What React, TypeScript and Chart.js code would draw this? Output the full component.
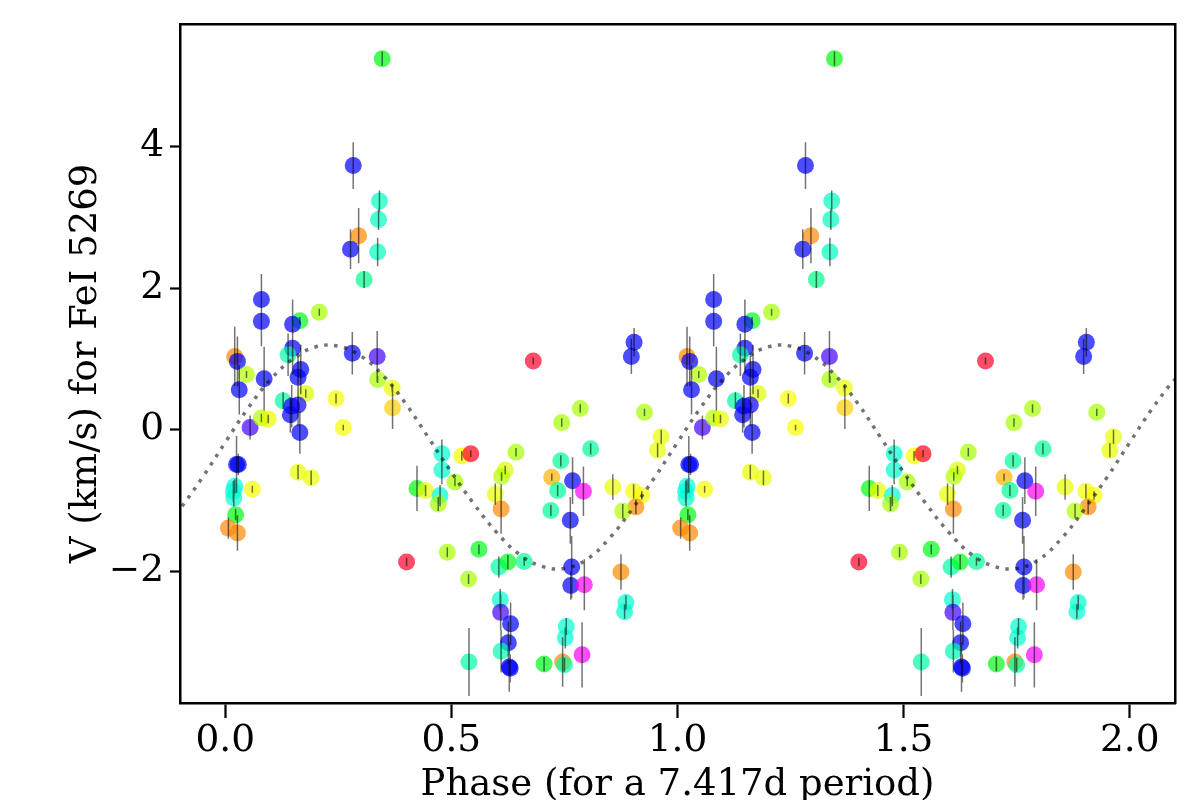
import React, { useEffect, useRef } from "react";
import { Chart, registerables } from "chart.js";

Chart.register(...registerables);

// ---- data (phase folded, one cycle; the plot shows it twice: phase and phase + 1) ----
const phase = [
  0.021, 0.027, 0.047, 0.031, 0.055, 0.025, 0.029, 0.021, 0.018, 0.019, 0.060, 0.023, 0.007, 0.027,
  0.080, 0.080, 0.086, 0.080, 0.095,
  0.165, 0.149, 0.149, 0.139, 0.167, 0.161, 0.128, 0.178, 0.147, 0.161, 0.144, 0.165, 0.161, 0.190, 0.208, 0.245, 0.261,
  0.347, 0.283, 0.341, 0.339, 0.295, 0.277, 0.337, 0.307, 0.281, 0.336, 0.337, 0.369, 0.370,
  0.401, 0.424, 0.443, 0.479, 0.479, 0.523, 0.543, 0.508, 0.475, 0.471, 0.491, 0.561, 0.538, 0.539,
  0.643, 0.619, 0.611, 0.597, 0.610, 0.605, 0.625, 0.661, 0.608, 0.609, 0.631, 0.626, 0.610, 0.628, 0.630,
  0.681, 0.744, 0.785, 0.808, 0.742, 0.722, 0.768, 0.735, 0.792, 0.720, 0.763, 0.705, 0.746, 0.750, 0.754, 0.752, 0.789, 0.766, 0.764, 0.794,
  0.927, 0.964, 0.956, 0.857, 0.903, 0.921, 0.908, 0.879, 0.904, 0.898, 0.875, 0.886, 0.883,
];

const velocity = [
  1.035, 0.965, 0.78, 0.565, 0.03, -0.49, -0.49, -0.80, -0.87, -0.965, -0.84, -1.20, -1.39, -1.46,
  1.84, 1.53, 0.72, 0.165, 0.15,
  1.54, 1.49, 1.15, 1.06, 0.85, 0.74, 0.41, 0.51, 0.33, 0.35, 0.21, -0.04, -0.60, -0.68, 1.66, 0.44, 0.03,
  5.24, 3.73, 3.23, 2.97, 2.74, 2.55, 2.51, 2.12, 1.08, 1.035, 0.71, 0.59, 0.31,
  -1.87, -0.83, -0.86, -0.34, -0.57, -0.37, -0.34, -0.74, -0.93, -1.05, -1.73, -1.69, -2.11, -3.28,
  -0.32, -0.57, -0.66, -0.91, -1.12, -1.94, -1.87, -1.86, -2.40, -2.58, -2.74, -3.01, -3.13, -3.35, -3.37,
  0.97, 0.10, 0.30, -0.27, -0.44, -0.67, -0.72, -0.86, -0.87, -1.14, -1.28, -3.31, -3.28, -3.32, -2.78, -2.94, -3.18, -1.94, -2.20, -2.19,
  0.245, -0.10, -0.29, -0.81, -0.87, -0.93, -1.09, -1.15, 1.235, 1.035, -2.01, -2.44, -2.57,
];

const velocityErr = [
  0.42, 0.35, 0.05, 0.35, 0.17, 0.40, 0.15, 0.10, 0.15, 0.12, 0.05, 0.08, 0.15, 0.25,
  0.36, 0.35, 0.45, 0.06, 0.06,
  0.05, 0.35, 0.37, 0.30, 0.35, 0.30, 0.12, 0.06, 0.30, 0.30, 0.25, 0.30, 0.10, 0.10, 0.05, 0.07, 0.04,
  0.10, 0.33, 0.15, 0.15, 0.39, 0.28, 0.20, 0.12, 0.30, 0.36, 0.05, 0.05, 0.30,
  0.06, 0.32, 0.08, 0.20, 0.20, 0.07, 0.05, 0.06, 0.15, 0.10, 0.07, 0.07, 0.07, 0.48,
  0.06, 0.06, 0.06, 0.15, 0.35, 0.15, 0.10, 0.06, 0.15, 0.25, 0.30, 0.30, 0.30, 0.35, 0.20,
  0.05, 0.06, 0.06, 0.08, 0.08, 0.05, 0.33, 0.08, 0.35, 0.08, 0.33, 0.10, 0.35, 0.10, 0.12, 0.15, 0.46, 0.44, 0.20, 0.36,
  0.05, 0.10, 0.10, 0.18, 0.10, 0.06, 0.10, 0.10, 0.20, 0.25, 0.25, 0.10, 0.10,
];

// colour value of each observation (0..1 on the gist_rainbow colour map)
const colorValue = [
  0.13, 0.77, 0.27, 0.77, 0.82, 0.77, 0.77, 0.56, 0.56, 0.55, 0.22, 0.41, 0.13, 0.13,
  0.77, 0.77, 0.77, 0.27, 0.23,
  0.42, 0.77, 0.77, 0.52, 0.77, 0.77, 0.52, 0.24, 0.78, 0.78, 0.77, 0.77, 0.23, 0.23, 0.28, 0.22, 0.22,
  0.41, 0.77, 0.54, 0.54, 0.13, 0.77, 0.54, 0.50, 0.77, 0.82, 0.28, 0.23, 0.18,
  0.00, 0.41, 0.23, 0.55, 0.55, 0.22, 0.01, 0.28, 0.55, 0.28, 0.28, 0.42, 0.28, 0.52,
  0.28, 0.24, 0.27, 0.23, 0.13, 0.52, 0.42, 0.51, 0.55, 0.82, 0.77, 0.77, 0.53, 0.77, 0.77,
  0.00, 0.28, 0.28, 0.51, 0.51, 0.16, 0.77, 0.51, 0.96, 0.51, 0.77, 0.42, 0.13, 0.52, 0.55, 0.55, 0.96, 0.77, 0.77, 0.96,
  0.28, 0.23, 0.23, 0.23, 0.22, 0.22, 0.13, 0.27, 0.77, 0.77, 0.13, 0.55, 0.55,
];

// fitted curve, read every 0.05 in phase over one cycle (0.00 .. 0.95)
const curveCyclePhase = [0, 0.05, 0.1, 0.15, 0.2, 0.25, 0.3, 0.35, 0.4, 0.45, 0.5, 0.55, 0.6, 0.65, 0.7, 0.75, 0.8, 0.85, 0.9, 0.95];
const curveCycleValue = [-0.18, 0.3, 0.71, 1.0, 1.17, 1.18, 1.04, 0.76, 0.36, -0.12, -0.6, -1.05, -1.45, -1.76, -1.93, -1.96, -1.83, -1.53, -1.12, -0.67];
const cycleOffsets = [-1, 0, 1, 2];

const xTicks = [0, 0.5, 1.0, 1.5, 2.0];
const yTicks = [-2, 0, 2, 4];
const xRange = [-0.1, 2.1];
const yRange = [-3.86, 5.73];

const xTitle = "Phase (for a 7.417d period)";
const yTitle = "V (km/s) for FeI 5269";

// ---- styles ----
const FONT = "'DejaVu Serif', 'Liberation Serif', serif";
const CANVAS_W = 1200;
const CANVAS_H = 810;

const gistStops: [number, [number, number, number]][] = [
  [0.0, [1.0, 0.0, 0.16]],
  [0.03, [1.0, 0.0, 0.0]],
  [0.215, [1.0, 1.0, 0.0]],
  [0.4, [0.0, 1.0, 0.0]],
  [0.586, [0.0, 1.0, 1.0]],
  [0.77, [0.0, 0.0, 1.0]],
  [0.954, [1.0, 0.0, 1.0]],
  [1.0, [1.0, 0.0, 0.75]],
];

function gistRainbow(t: number, alpha: number): string {
  const v = Math.min(1, Math.max(0, t));
  for (let i = 0; i < gistStops.length - 1; i++) {
    const [t0, c0] = gistStops[i];
    const [t1, c1] = gistStops[i + 1];
    if (v >= t0 && v <= t1) {
      const f = (v - t0) / (t1 - t0);
      const c = c0.map((a, k) => Math.round(255 * (a + (c1[k] - a) * f)));
      return `rgba(${c[0]},${c[1]},${c[2]},${alpha})`;
    }
  }
  return `rgba(255,0,191,${alpha})`;
}

export default function App() {
  const canvasRef = useRef<HTMLCanvasElement | null>(null);

  useEffect(() => {
    const canvas = canvasRef.current;
    if (!canvas) return;

    const pts: { x: number; y: number }[] = [];
    const cols: string[] = [];
    const bars: { x: number; y: number | null }[] = [];
    [0, 1].forEach((shift) => {
      phase.forEach((p, i) => {
        pts.push({ x: p + shift, y: velocity[i] });
        cols.push(gistRainbow(colorValue[i], 0.7));
        bars.push({ x: p + shift, y: velocity[i] - velocityErr[i] });
        bars.push({ x: p + shift, y: velocity[i] + velocityErr[i] });
        bars.push({ x: p + shift, y: null });
      });
    });

    const curve: { x: number; y: number }[] = [];
    cycleOffsets.forEach((k) => {
      curveCyclePhase.forEach((p, i) => {
        const x = p + k;
        if (x >= xRange[0] - 0.051 && x <= xRange[1] + 0.051) curve.push({ x, y: curveCycleValue[i] });
      });
    });

    const tickFont = { family: FONT, size: 37.5 };
    const titleFont = { family: FONT, size: 37 };

    const chart = new Chart(canvas, {
      type: "scatter",
      data: {
        datasets: [
          {
            type: "line",
            data: curve,
            borderColor: "rgba(0,0,0,0.55)",
            borderWidth: 3.5,
            borderDash: [3.5, 6.5],
            pointRadius: 0,
            tension: 0.4,
            fill: false,
            order: 0,
          } as any,
          {
            type: "line",
            data: bars,
            borderColor: "rgba(0,0,0,0.55)",
            borderWidth: 1.5,
            pointRadius: 0,
            spanGaps: false,
            tension: 0,
            fill: false,
            order: 1,
          } as any,
          {
            type: "scatter",
            data: pts,
            backgroundColor: cols,
            pointBackgroundColor: cols,
            pointBorderWidth: 0,
            borderWidth: 0,
            pointRadius: 8.5,
            order: 2,
          } as any,
        ],
      },
      options: {
        responsive: false,
        animation: false,
        events: [],
        layout: { padding: { top: 24, right: 25, left: 0, bottom: 0 } },
        plugins: { legend: { display: false }, tooltip: { enabled: false } },
        scales: {
          x: {
            type: "linear",
            position: "bottom",
            min: xRange[0],
            max: xRange[1],
            afterFit: (s: any) => {
              s.height = CANVAS_H - 703;
              s.paddingLeft = 0;
              s.paddingRight = 0;
            },
            afterBuildTicks: (s: any) => {
              s.ticks = xTicks.map((v) => ({ value: v }));
            },
            ticks: {
              color: "#000",
              font: tickFont,
              padding: 1,
              maxRotation: 0,
              autoSkip: false,
              includeBounds: false,
              callback: (v: any) => Number(v).toFixed(1),
            },
            grid: {
              display: true,
              drawOnChartArea: false,
              drawTicks: true,
              tickLength: 15,
              tickWidth: 2.2,
              tickColor: "#000",
            },
            border: { display: true, color: "#000", width: 2.5 },
            title: {
              display: true,
              text: xTitle,
              color: "#000",
              font: titleFont,
              padding: { top: 0, bottom: 2 },
            },
          },
          y: {
            type: "linear",
            position: "left",
            min: yRange[0],
            max: yRange[1],
            afterFit: (s: any) => {
              s.width = 180;
              s.paddingTop = 0;
              s.paddingBottom = 0;
            },
            afterBuildTicks: (s: any) => {
              s.ticks = yTicks.map((v) => ({ value: v }));
            },
            ticks: {
              color: "#000",
              font: tickFont,
              padding: 6,
              autoSkip: false,
              includeBounds: false,
              callback: (v: any) => (Number(v) < 0 ? "\u2212" + Math.abs(Number(v)) : String(v)),
            },
            grid: {
              display: true,
              drawOnChartArea: false,
              drawTicks: true,
              tickLength: 10,
              tickWidth: 2.2,
              tickColor: "#000",
            },
            border: { display: true, color: "#000", width: 2.5 },
            title: {
              display: true,
              text: yTitle,
              color: "#000",
              font: titleFont,
              padding: { top: 64, bottom: 0 },
            },
          },
          x2: {
            type: "linear",
            position: "top",
            min: xRange[0],
            max: xRange[1],
            afterFit: (s: any) => {
              s.height = 0;
              s.paddingLeft = 0;
              s.paddingRight = 0;
            },
            ticks: { display: false },
            grid: { display: false },
            border: { display: true, color: "#000", width: 2.5 },
          },
          y2: {
            type: "linear",
            position: "right",
            min: yRange[0],
            max: yRange[1],
            afterFit: (s: any) => {
              s.width = 0;
              s.paddingTop = 0;
              s.paddingBottom = 0;
            },
            ticks: { display: false },
            grid: { display: false },
            border: { display: true, color: "#000", width: 2.5 },
          },
        },
      } as any,
    });

    return () => chart.destroy();
  }, []);

  return (
    <div
      style={{
        position: "absolute",
        left: 0,
        top: 0,
        width: CANVAS_W,
        height: 800,
        overflow: "hidden",
        background: "#fff",
      }}
    >
      <canvas
        ref={canvasRef}
        width={CANVAS_W}
        height={CANVAS_H}
        style={{ display: "block", width: CANVAS_W, height: CANVAS_H }}
      />
    </div>
  );
}
